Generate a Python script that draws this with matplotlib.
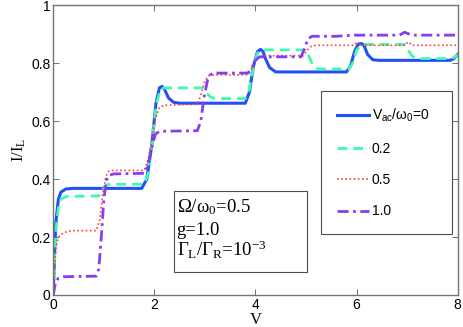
import matplotlib
matplotlib.use("Agg")
import matplotlib.pyplot as plt
from matplotlib.patches import Rectangle

plt.rcParams['mathtext.fontset'] = 'custom'
plt.rcParams['mathtext.rm'] = 'Liberation Serif'
plt.rcParams['mathtext.it'] = 'Liberation Serif:italic'
plt.rcParams['mathtext.sf'] = 'Liberation Sans'
plt.rcParams['font.family'] = 'Liberation Sans'

# V_ac/w0 = 0
v_0 = [0, 0.02, 0.05, 0.1, 0.15, 0.25, 0.4, 1.75, 1.85, 1.95, 2.03, 2.1, 2.15, 2.2, 2.28,
       2.38, 2.5, 3.8, 3.88, 3.96, 4.04, 4.1, 4.15, 4.2, 4.28, 4.4, 5.8, 5.88, 5.96, 6.03,
       6.1, 6.15, 6.22, 6.32, 6.45, 7.85, 7.92, 8.0]
i_0 = [0, 0.12, 0.25, 0.33, 0.355, 0.366, 0.368, 0.368, 0.40, 0.52, 0.66, 0.715, 0.72, 0.71,
       0.68, 0.665, 0.662, 0.662, 0.70, 0.79, 0.84, 0.848, 0.84, 0.815, 0.785, 0.77, 0.77,
       0.79, 0.84, 0.865, 0.868, 0.86, 0.83, 0.812, 0.81, 0.81, 0.815, 0.83]

# V_ac/w0 = 0.2
v_02 = [0, 0.02, 0.05, 0.1, 0.15, 0.25, 0.9, 0.97, 1.03, 1.1, 1.8, 1.88, 1.96, 2.04, 2.12,
        2.2, 2.95, 3.02, 3.1, 3.2, 3.8, 3.88, 3.96, 4.04, 4.12, 5.0, 5.07, 5.14, 5.25, 5.85,
        5.92, 6.0, 6.08, 6.15, 6.95, 7.02, 7.1, 7.2, 7.88, 7.95, 8.0]
i_02 = [0, 0.1, 0.22, 0.3, 0.33, 0.34, 0.342, 0.36, 0.378, 0.382, 0.382, 0.42, 0.54, 0.66,
        0.71, 0.715, 0.715, 0.70, 0.685, 0.678, 0.678, 0.71, 0.79, 0.835, 0.846, 0.846, 0.82,
        0.79, 0.78, 0.78, 0.80, 0.845, 0.862, 0.865, 0.865, 0.845, 0.825, 0.816, 0.816,
        0.822, 0.83]

# V_ac/w0 = 0.5
v_05 = [0, 0.02, 0.05, 0.1, 0.2, 0.35, 0.85, 0.92, 0.98, 1.04, 1.1, 1.2, 1.8, 1.88, 1.95,
        2.02, 2.1, 2.2, 2.85, 2.92, 3.0, 3.08, 3.15, 3.85, 3.92, 4.0, 4.08, 4.18, 4.95, 5.02,
        5.1, 5.2, 5.95, 6.02, 6.1, 6.95, 7.02, 7.1, 8.0]
i_05 = [0, 0.08, 0.16, 0.2, 0.215, 0.222, 0.222, 0.26, 0.35, 0.41, 0.428, 0.43, 0.43, 0.47,
        0.54, 0.61, 0.648, 0.655, 0.658, 0.69, 0.74, 0.758, 0.76, 0.76, 0.78, 0.81, 0.822,
        0.826, 0.826, 0.845, 0.858, 0.862, 0.862, 0.874, 0.862, 0.862, 0.874, 0.862, 0.862]

# V_ac/w0 = 1.0
v_10 = [0, 0.02, 0.05, 0.1, 0.2, 0.85, 0.9, 0.95, 1.0, 1.05, 1.1, 1.2, 1.8, 1.88, 1.95, 2.02,
        2.1, 2.85, 2.92, 2.98, 3.05, 3.12, 3.2, 3.85, 3.92, 4.0, 4.08, 4.9, 4.97, 5.04, 5.12,
        5.6, 5.95, 6.85, 6.95, 7.05, 7.15, 8.0]
i_10 = [0, 0.02, 0.045, 0.058, 0.063, 0.065, 0.09, 0.2, 0.33, 0.395, 0.413, 0.418, 0.42,
        0.45, 0.51, 0.555, 0.565, 0.567, 0.60, 0.68, 0.74, 0.762, 0.766, 0.766, 0.78, 0.81,
        0.822, 0.822, 0.85, 0.885, 0.893, 0.893, 0.897, 0.897, 0.907, 0.9, 0.897, 0.897]

labels = ['V$_{\\mathsf{ac}}$/ω$_{\\mathsf{0}}$=0', '0.2', '0.5', '1.0']
params = ['Ω/ω$_{\\mathrm{0}}$=0.5', 'g=1.0', 'Γ$_{\\mathrm{L}}$/Γ$_{\\mathrm{R}}$=10$^{-3}$']

fig = plt.figure(figsize=(4.63, 3.27), dpi=100)
ax = fig.add_axes([0.1151, 0.0979, 0.8733, 0.8859])

ax.plot(v_0, i_0, color='#2150f5', lw=2.2, ls='-', label=labels[0])
ax.plot(v_02, i_02, color='#3dfab0', lw=2.0, ls=(0, (3.5, 2.2)), label=labels[1])
ax.plot(v_05, i_05, color='#ff4040', lw=1.2, ls=(0, (1, 1.5)), label=labels[2])
ax.plot(v_10, i_10, color='#8a3cf5', lw=2.0, ls=(0, (4, 1.6, 1, 1.6)), label=labels[3])

ax.set_xlim(0, 8)
ax.set_ylim(0, 1)
ax.set_xticks([0, 2, 4, 6, 8])
ax.set_yticks([0, 0.2, 0.4, 0.6, 0.8, 1])
ax.set_yticklabels(['0', '0.2', '0.4', '0.6', '0.8', '1'])
ax.tick_params(direction='in', top=True, right=True, length=4, width=0.6,
               color='0.35', labelsize=10, pad=2)
for s in ax.spines.values():
    s.set_color('0.45')
    s.set_linewidth(1.0)

ax.set_xlabel('V', family='Liberation Serif', fontsize=12, labelpad=0)
ax.set_ylabel('I/I$_{\\mathrm{L}}$', family='Liberation Serif', fontsize=12, labelpad=2)

leg = ax.legend(loc='upper left', bbox_to_anchor=(0.662, 0.221, 0.323, 0.482),
                mode='expand', fontsize=10,
                handlelength=2.3, handletextpad=0.2, labelspacing=1.25,
                borderpad=1.15, fancybox=False, edgecolor='0.3', framealpha=1,
                borderaxespad=0)
leg.get_frame().set_linewidth(0.8)

# parameter box
ax.add_patch(Rectangle((0.298, 0.079), 0.329, 0.28, transform=ax.transAxes,
                       fc='white', ec='0.3', lw=0.8, zorder=4))
for txt, yb in zip(params, [0.286, 0.207, 0.135]):
    ax.text(0.305, yb, txt, transform=ax.transAxes, family='Liberation Serif',
            fontsize=13.5, va='baseline', ha='left', zorder=5)

fig.savefig('out.png', dpi=100)
